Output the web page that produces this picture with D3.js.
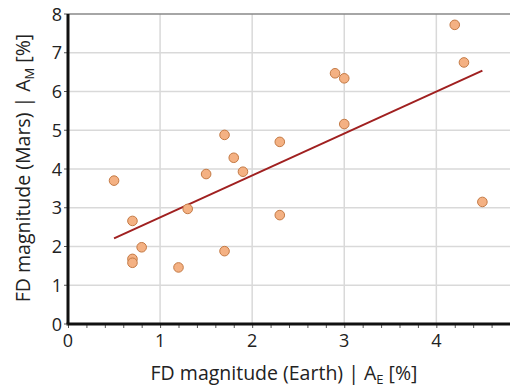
<!DOCTYPE html>
<html>
<head>
<meta charset="utf-8">
<script src="https://cdn.jsdelivr.net/npm/d3@7"></script>
<style>
  body { margin: 0; background: #fff; }
  text { font-family: "Open Sans", sans-serif; fill: #222; }
</style>
</head>
<body>
<div class="chart"></div>
<script>
// data
var earth = [0.5, 0.7, 0.7, 0.7, 0.8, 1.2, 1.3, 1.5, 1.7, 1.7, 1.8, 1.9, 2.3, 2.3, 2.9, 3.0, 3.0, 4.2, 4.3, 4.5];
var mars  = [3.70, 2.66, 1.68, 1.58, 1.98, 1.46, 2.97, 3.87, 4.88, 1.88, 4.29, 3.93, 4.70, 2.81, 6.47, 6.34, 5.16, 7.72, 6.75, 3.15];
var trendX = [0.5, 4.5];
var trendY = [2.21, 6.54];
var xTicks = [0, 1, 2, 3, 4];
var yTicks = [0, 1, 2, 3, 4, 5, 6, 7, 8];

var width = 510, height = 388;
var margin = { top: 14, right: 0, bottom: 64, left: 68 };

var svg = d3.select(".chart").append("svg")
  .attr("width", width)
  .attr("height", height);

var x = d3.scaleLinear().domain([0, 4.8]).range([margin.left, 510]);
var y = d3.scaleLinear().domain([0, 8]).range([height - margin.bottom, margin.top]);

// grid
svg.append("g").selectAll("line").data(xTicks.filter(d => d > 0)).enter().append("line")
  .attr("x1", d => x(d)).attr("x2", d => x(d))
  .attr("y1", y(0)).attr("y2", y(8))
  .attr("stroke", "#d9d9d9").attr("stroke-width", 1.5);
svg.append("g").selectAll("line").data(yTicks.filter(d => d > 0 && d < 8)).enter().append("line")
  .attr("x1", x(0)).attr("x2", 512)
  .attr("y1", d => y(d)).attr("y2", d => y(d))
  .attr("stroke", "#d9d9d9").attr("stroke-width", 1.5);

// top border
svg.append("line")
  .attr("x1", x(0)).attr("x2", 512)
  .attr("y1", y(8)).attr("y2", y(8))
  .attr("stroke", "#888").attr("stroke-width", 1.5);

// x axis
var xAxis = svg.append("g")
  .attr("transform", "translate(0," + y(0) + ")")
  .call(d3.axisBottom(x).tickValues(d3.range(0, 4.81, 0.2)).tickSize(4).tickFormat(""));
xAxis.select(".domain").remove();
xAxis.selectAll("line").attr("stroke", "#555");
svg.append("g")
  .selectAll("text").data(xTicks).enter().append("text")
  .attr("x", d => x(d)).attr("y", y(0) + 23)
  .attr("text-anchor", "middle").attr("font-size", 18)
  .text(d => d);
svg.append("line")
  .attr("x1", x(0) - 1.5).attr("x2", 512)
  .attr("y1", y(0)).attr("y2", y(0))
  .attr("stroke", "#111").attr("stroke-width", 3);

// y axis
svg.append("g").selectAll("line").data(yTicks).enter().append("line")
  .attr("x1", x(0) - 4).attr("x2", x(0))
  .attr("y1", d => y(d)).attr("y2", d => y(d))
  .attr("stroke", "#555");
svg.append("g")
  .selectAll("text").data(yTicks).enter().append("text")
  .attr("x", x(0) - 6).attr("y", d => y(d) + 6.5)
  .attr("text-anchor", "end").attr("font-size", 18)
  .text(d => d);
svg.append("line")
  .attr("x1", x(0)).attr("x2", x(0))
  .attr("y1", y(8)).attr("y2", y(0))
  .attr("stroke", "#111").attr("stroke-width", 3);

// trend line
svg.append("line")
  .attr("x1", x(trendX[0])).attr("y1", y(trendY[0]))
  .attr("x2", x(trendX[1])).attr("y2", y(trendY[1]))
  .attr("stroke", "#a02020").attr("stroke-width", 2);

// points
svg.append("g").selectAll("circle").data(earth).enter().append("circle")
  .attr("cx", d => x(d))
  .attr("cy", (d, i) => y(mars[i]))
  .attr("r", 4.8)
  .attr("fill", "#f4b183")
  .attr("stroke", "#c47a45")
  .attr("stroke-width", 1);

// axis titles
var xt = svg.append("text")
  .attr("x", 284).attr("y", 380)
  .attr("text-anchor", "middle").attr("font-size", 19.5);
xt.append("tspan").text("FD magnitude (Earth) | A");
xt.append("tspan").attr("font-size", 13).attr("dy", 4).text("E");
xt.append("tspan").attr("dy", -4).text(" [%]");

var yt = svg.append("text")
  .attr("transform", "translate(30," + 168 + ") rotate(-90)")
  .attr("text-anchor", "middle").attr("font-size", 19.5);
yt.append("tspan").text("FD magnitude (Mars) | A");
yt.append("tspan").attr("font-size", 13).attr("dy", 4).text("M");
yt.append("tspan").attr("dy", -4).text(" [%]");
</script>
</body>
</html>
